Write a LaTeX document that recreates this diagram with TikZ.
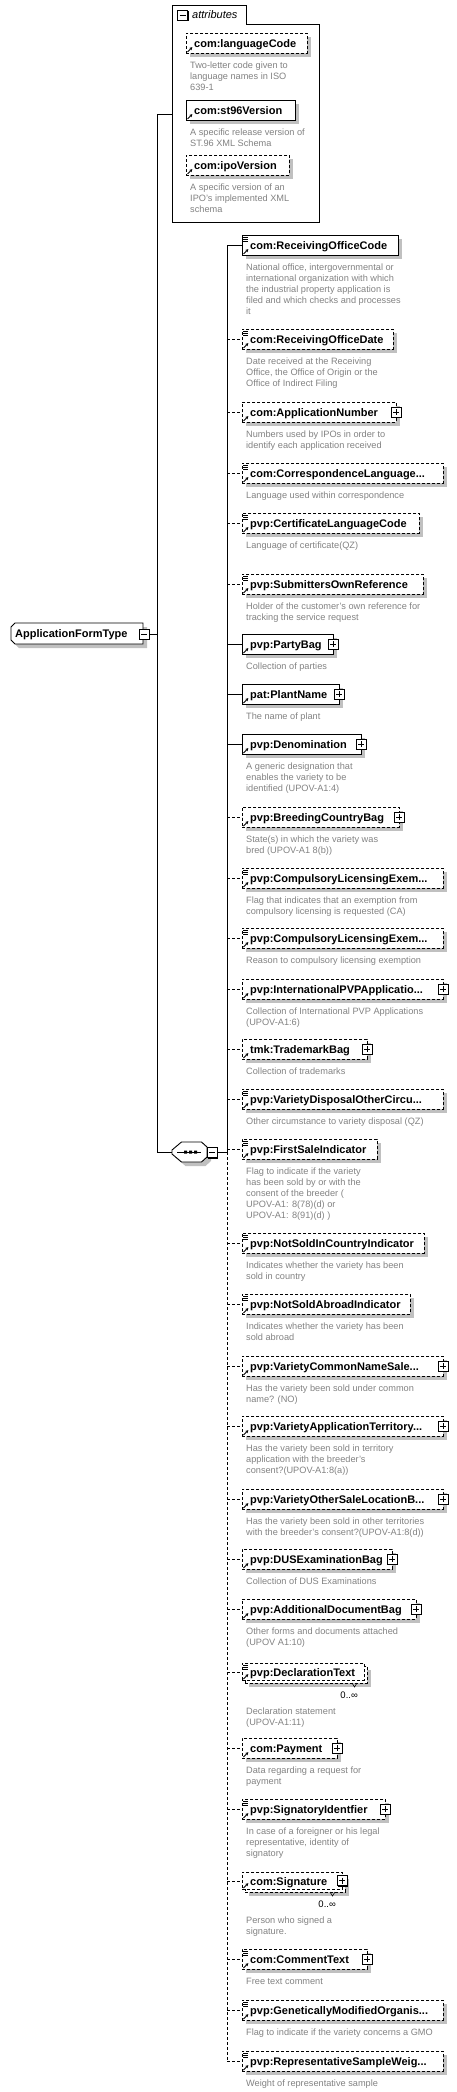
\documentclass[tikz,border=0pt]{standalone}
\usepackage{fontspec}
\setmainfont{Liberation Sans}
\usetikzlibrary{arrows.meta}
\definecolor{shadowc}{RGB}{192,192,192}
\definecolor{descc}{RGB}{130,130,130}
\tikzset{
  elbox/.style={draw=black, fill=white, line width=0.9pt, inner sep=0pt, minimum height=20pt, anchor=north west},
  dsh/.style={dash pattern=on 3pt off 2pt},
  lbl/.style={font=\fontsize{11}{13}\selectfont\bfseries, inner sep=0pt, anchor=base west},
  desc/.style={font=\fontsize{9.2}{11.1}\selectfont, text=descc, inner sep=0pt, anchor=north west, align=left},
  conn/.style={line width=0.9pt},
  occ/.style={font=\fontsize{9.5}{11}\selectfont, inner sep=0pt, anchor=base east},
}
\newcommand\eqicon[2]{\draw[line width=0.7pt] (#1+1.3,#2+2.3) -- ++(4.7,0) (#1+1.3,#2+4.3) -- ++(4.7,0) (#1+1.3,#2+6.3) -- ++(4.7,0);}
\newcommand\arricon[2]{\draw[line width=0.9pt,-{Stealth[length=2.8pt,width=3.2pt]}] (#1+1.5,#2-1) -- (#1+6.3,#2-5.8);}
\newcommand\plusicon[2]{%
  \fill[black] (#1-4,#2-4) rectangle (#1+6,#2+6);
  \filldraw[fill=white,draw=black,line width=0.8pt] (#1-5,#2-5) rectangle (#1+5,#2+5);
  \draw[line width=0.9pt] (#1-3,#2) -- (#1+3,#2) (#1,#2-3) -- (#1,#2+3);}
\newcommand\minusicon[2]{%
  \fill[black] (#1-4,#2-4) rectangle (#1+6,#2+6);
  \filldraw[fill=white,draw=black,line width=0.8pt] (#1-5,#2-5) rectangle (#1+5,#2+5);
  \draw[line width=0.9pt] (#1-3,#2) -- (#1+3,#2);}
% name, left, top, right, label, style, eq, plus, desc
\newcommand\elem[9]{%
  \fill[shadowc] (#2+4,#3+4) rectangle (#4+4,#3+24);
  \node[elbox,#6,minimum width={#4pt-#2pt}] (#1) at (#2,#3) {};
  \node[lbl] (#1-l) at (#2+8,#3+14.5) {#5};
  \ifnum#7=1 \eqicon{#2}{#3}\fi
  \arricon{#2}{#3+20}
  \ifnum#8=1 \plusicon{#4}{#3+10}\fi
  \node[desc] (#1-d) at (#2+4,#3+28) {\rule{0pt}{7pt}#9};
}
% multi-occurrence: name, top, right, label, eq, plus, desc
\newcommand\melem[7]{%
  \fill[shadowc] (249,#2+7) rectangle (#3+4,#2+24);
  \node[elbox,dsh,minimum width={#3pt-245pt},minimum height=17pt] (#1-b) at (245,#2+3) {};
  \node[elbox,dsh,minimum width={#3pt-245pt},minimum height=17pt] (#1) at (242,#2) {};
  \node[lbl] (#1-l) at (250,#2+13) {#4};
  \ifnum#5=1 \eqicon{242}{#2}\fi
  \arricon{242}{#2+17}
  \ifnum#6=1 \plusicon{#3-3}{#2+8.5}\fi
  \draw[line width=0.6pt] (#3-15,#2+20) -- (#3-12.5,#2+24) -- (#3-10,#2+20);
  \node[occ] (#1-o) at (#3-9,#2+35) {0..∞};
  \node[desc] (#1-d) at (246,#2+44) {\rule{0pt}{7pt}#7};
}
\begin{document}
\begin{tikzpicture}[x=1pt,y=-1pt]
\useasboundingbox (0,0) rectangle (457,2092);
% ---------- attributes ----------
\draw[line width=0.9pt,fill=white] (172,5) -- (246,5) -- (246,24) -- (319,24) -- (319,222) -- (172,222) -- cycle;
\minusicon{182.5}{15.5}
\node[font=\fontsize{11}{13}\selectfont\itshape, inner sep=0pt, anchor=base west] (attrl) at (192,19) {attributes};
\coordinate (attrW) at (172,114);
\elem{lc}{186}{33}{307}{com:languageCode}{dsh}{0}{0}{Two-letter code given to\\language names in ISO\\639-1}
\elem{st}{186}{100}{295}{com:st96Version}{solid}{0}{0}{A specific release version of\\ST.96 XML Schema}
\elem{ipo}{186}{155}{289}{com:ipoVersion}{dsh}{0}{0}{A specific version of an\\IPO's implemented XML\\schema}
% ---------- root ----------
\fill[shadowc] (19,627) -- (147,627) -- (147,648) -- (19,648) -- (15,644) -- (15,631) -- cycle;
\draw[line width=0.9pt, fill=white] (15,623) -- (143,623) -- (143,644) -- (15,644) -- (11,640) -- (11,627) -- cycle;
\node[lbl] (aft) at (15,637.5) {ApplicationFormType};
\minusicon{144}{634}
\coordinate (aftE) at (149,634);
% ---------- sequence ----------
\fill[shadowc] (185.5,1146) -- (205.5,1146) -- (211,1151) -- (211,1161) -- (205.5,1166) -- (185.5,1166) -- (176,1158) -- (176,1154) -- cycle;
\draw[line width=0.9pt, fill=white] (181.5,1142) -- (201.5,1142) -- (207,1147) -- (207,1157) -- (201.5,1162) -- (181.5,1162) -- (172,1154) -- (172,1150) -- cycle;
\draw[line width=0.9pt] (177,1152) -- (201,1152);
\fill (184,1150.5) rectangle (187,1153.5) (189,1150.5) rectangle (192,1153.5) (194,1150.5) rectangle (197,1153.5);
\minusicon{212}{1152.5}
\coordinate (seqW) at (172,1152);
\coordinate (seqE) at (217,1152);
% ---------- children ----------
\elem{roc}{242}{235}{398}{com:ReceivingOfficeCode}{solid}{1}{0}{National office, intergovernmental or\\international organization with which\\the industrial property application is\\filed and which checks and processes\\it}
\elem{rod}{242}{329}{393}{com:ReceivingOfficeDate}{dsh}{1}{0}{Date received at the Receiving\\Office, the Office of Origin or the\\Office of Indirect Filing}
\elem{an}{242}{402}{396}{com:ApplicationNumber}{dsh}{0}{1}{Numbers used by IPOs in order to\\identify each application received}
\elem{cl}{242}{463}{443}{com:CorrespondenceLanguage...}{dsh}{1}{0}{Language used within correspondence}
\elem{clc}{242}{513}{419}{pvp:CertificateLanguageCode}{dsh}{1}{0}{Language of certificate(QZ)}
\elem{sor}{242}{574}{423}{pvp:SubmittersOwnReference}{dsh}{1}{0}{Holder of the customer's own reference for\\tracking the service request}
\elem{pb}{242}{634}{333}{pvp:PartyBag}{solid}{0}{1}{Collection of parties}
\elem{pn}{242}{684}{339}{pat:PlantName}{solid}{0}{1}{The name of plant}
\elem{den}{242}{734}{361}{pvp:Denomination}{solid}{0}{1}{A generic designation that\\enables the variety to be\\identified (UPOV-A1:4)}
\elem{bcb}{242}{807}{399}{pvp:BreedingCountryBag}{dsh}{0}{1}{State(s) in which the variety was\\bred (UPOV-A1 8(b))}
\elem{cle}{242}{868}{443}{pvp:CompulsoryLicensingExem...}{dsh}{1}{0}{Flag that indicates that an exemption from\\compulsory licensing is requested (CA)}
\elem{clr}{242}{928}{443}{pvp:CompulsoryLicensingExem...}{dsh}{1}{0}{Reason to compulsory licensing exemption}
\elem{ipa}{242}{979}{443}{pvp:InternationalPVPApplicatio...}{dsh}{0}{1}{Collection of International PVP Applications\\(UPOV-A1:6)}
\elem{tb}{242}{1039}{367}{tmk:TrademarkBag}{dsh}{0}{1}{Collection of trademarks}
\elem{vdo}{242}{1089}{443}{pvp:VarietyDisposalOtherCircu...}{dsh}{1}{0}{Other circumstance to variety disposal (QZ)}
\elem{fsi}{242}{1139}{377}{pvp:FirstSaleIndicator}{dsh}{1}{0}{Flag to indicate if the variety\\has been sold by or with the\\consent of the breeder (\\UPOV-A1: 8(78)(d) or\\UPOV-A1: 8(91)(d) )}
\elem{nsc}{242}{1233}{424}{pvp:NotSoldInCountryIndicator}{dsh}{1}{0}{Indicates whether the variety has been\\sold in country}
\elem{nsa}{242}{1294}{410}{pvp:NotSoldAbroadIndicator}{dsh}{1}{0}{Indicates whether the variety has been\\sold abroad}
\elem{vcn}{242}{1356}{443}{pvp:VarietyCommonNameSale...}{dsh}{0}{1}{Has the variety been sold under common\\name? (NO)}
\elem{vat}{242}{1416}{443}{pvp:VarietyApplicationTerritory...}{dsh}{0}{1}{Has the variety been sold in territory\\application with the breeder's\\consent?(UPOV-A1:8(a))}
\elem{vos}{242}{1489}{443}{pvp:VarietyOtherSaleLocationB...}{dsh}{0}{1}{Has the variety been sold in other territories\\with the breeder's consent?(UPOV-A1:8(d))}
\elem{dus}{242}{1549}{392}{pvp:DUSExaminationBag}{dsh}{0}{1}{Collection of DUS Examinations}
\elem{adb}{242}{1599}{416}{pvp:AdditionalDocumentBag}{dsh}{0}{1}{Other forms and documents attached\\(UPOV A1:10)}
\melem{dt}{1663}{367}{pvp:DeclarationText}{1}{0}{Declaration statement\\(UPOV-A1:11)}
\elem{pay}{242}{1738}{337}{com:Payment}{dsh}{0}{1}{Data regarding a request for\\payment}
\elem{sid}{242}{1799}{385}{pvp:SignatoryIdentfier}{dsh}{1}{1}{In case of a foreigner or his legal\\representative, identity of\\signatory}
\melem{sig}{1872}{345}{com:Signature}{0}{1}{Person who signed a\\signature.}
\elem{ct}{242}{1949}{367}{com:CommentText}{dsh}{1}{1}{Free text comment}
\elem{gmo}{242}{2000}{443}{pvp:GeneticallyModifiedOrganis...}{dsh}{1}{0}{Flag to indicate if the variety concerns a GMO}
\elem{rsw}{242}{2051}{443}{pvp:RepresentativeSampleWeig...}{dsh}{1}{0}{Weight of representative sample}
% ---------- connectors ----------
\coordinate (lbx) at (157,0);
\coordinate (bus) at (227,0);
\draw[conn] (attrW) -- (attrW-|lbx) -- (seqW-|lbx) -- (seqW);
\draw[conn] (aftE) -- (aftE-|lbx);
\draw[conn] (seqE) -- (seqE-|bus);
\draw[conn] (roc.west-|bus) -- (seqE-|bus);
\draw[conn,dsh] (seqE-|bus) -- (rsw.west-|bus);
\foreach \n/\s in {roc/solid,rod/dsh,an/dsh,cl/dsh,clc/dsh,sor/dsh,pb/solid,pn/solid,den/solid,bcb/dsh,cle/dsh,clr/dsh,ipa/dsh,tb/dsh,vdo/dsh,fsi/dsh,nsc/dsh,nsa/dsh,vcn/dsh,vat/dsh,vos/dsh,dus/dsh,adb/dsh,dt/dsh,pay/dsh,sid/dsh,sig/dsh,ct/dsh,gmo/dsh,rsw/dsh}
  \draw[conn,\s] (\n.west-|bus) -- (\n.west);
\end{tikzpicture}
\end{document}
